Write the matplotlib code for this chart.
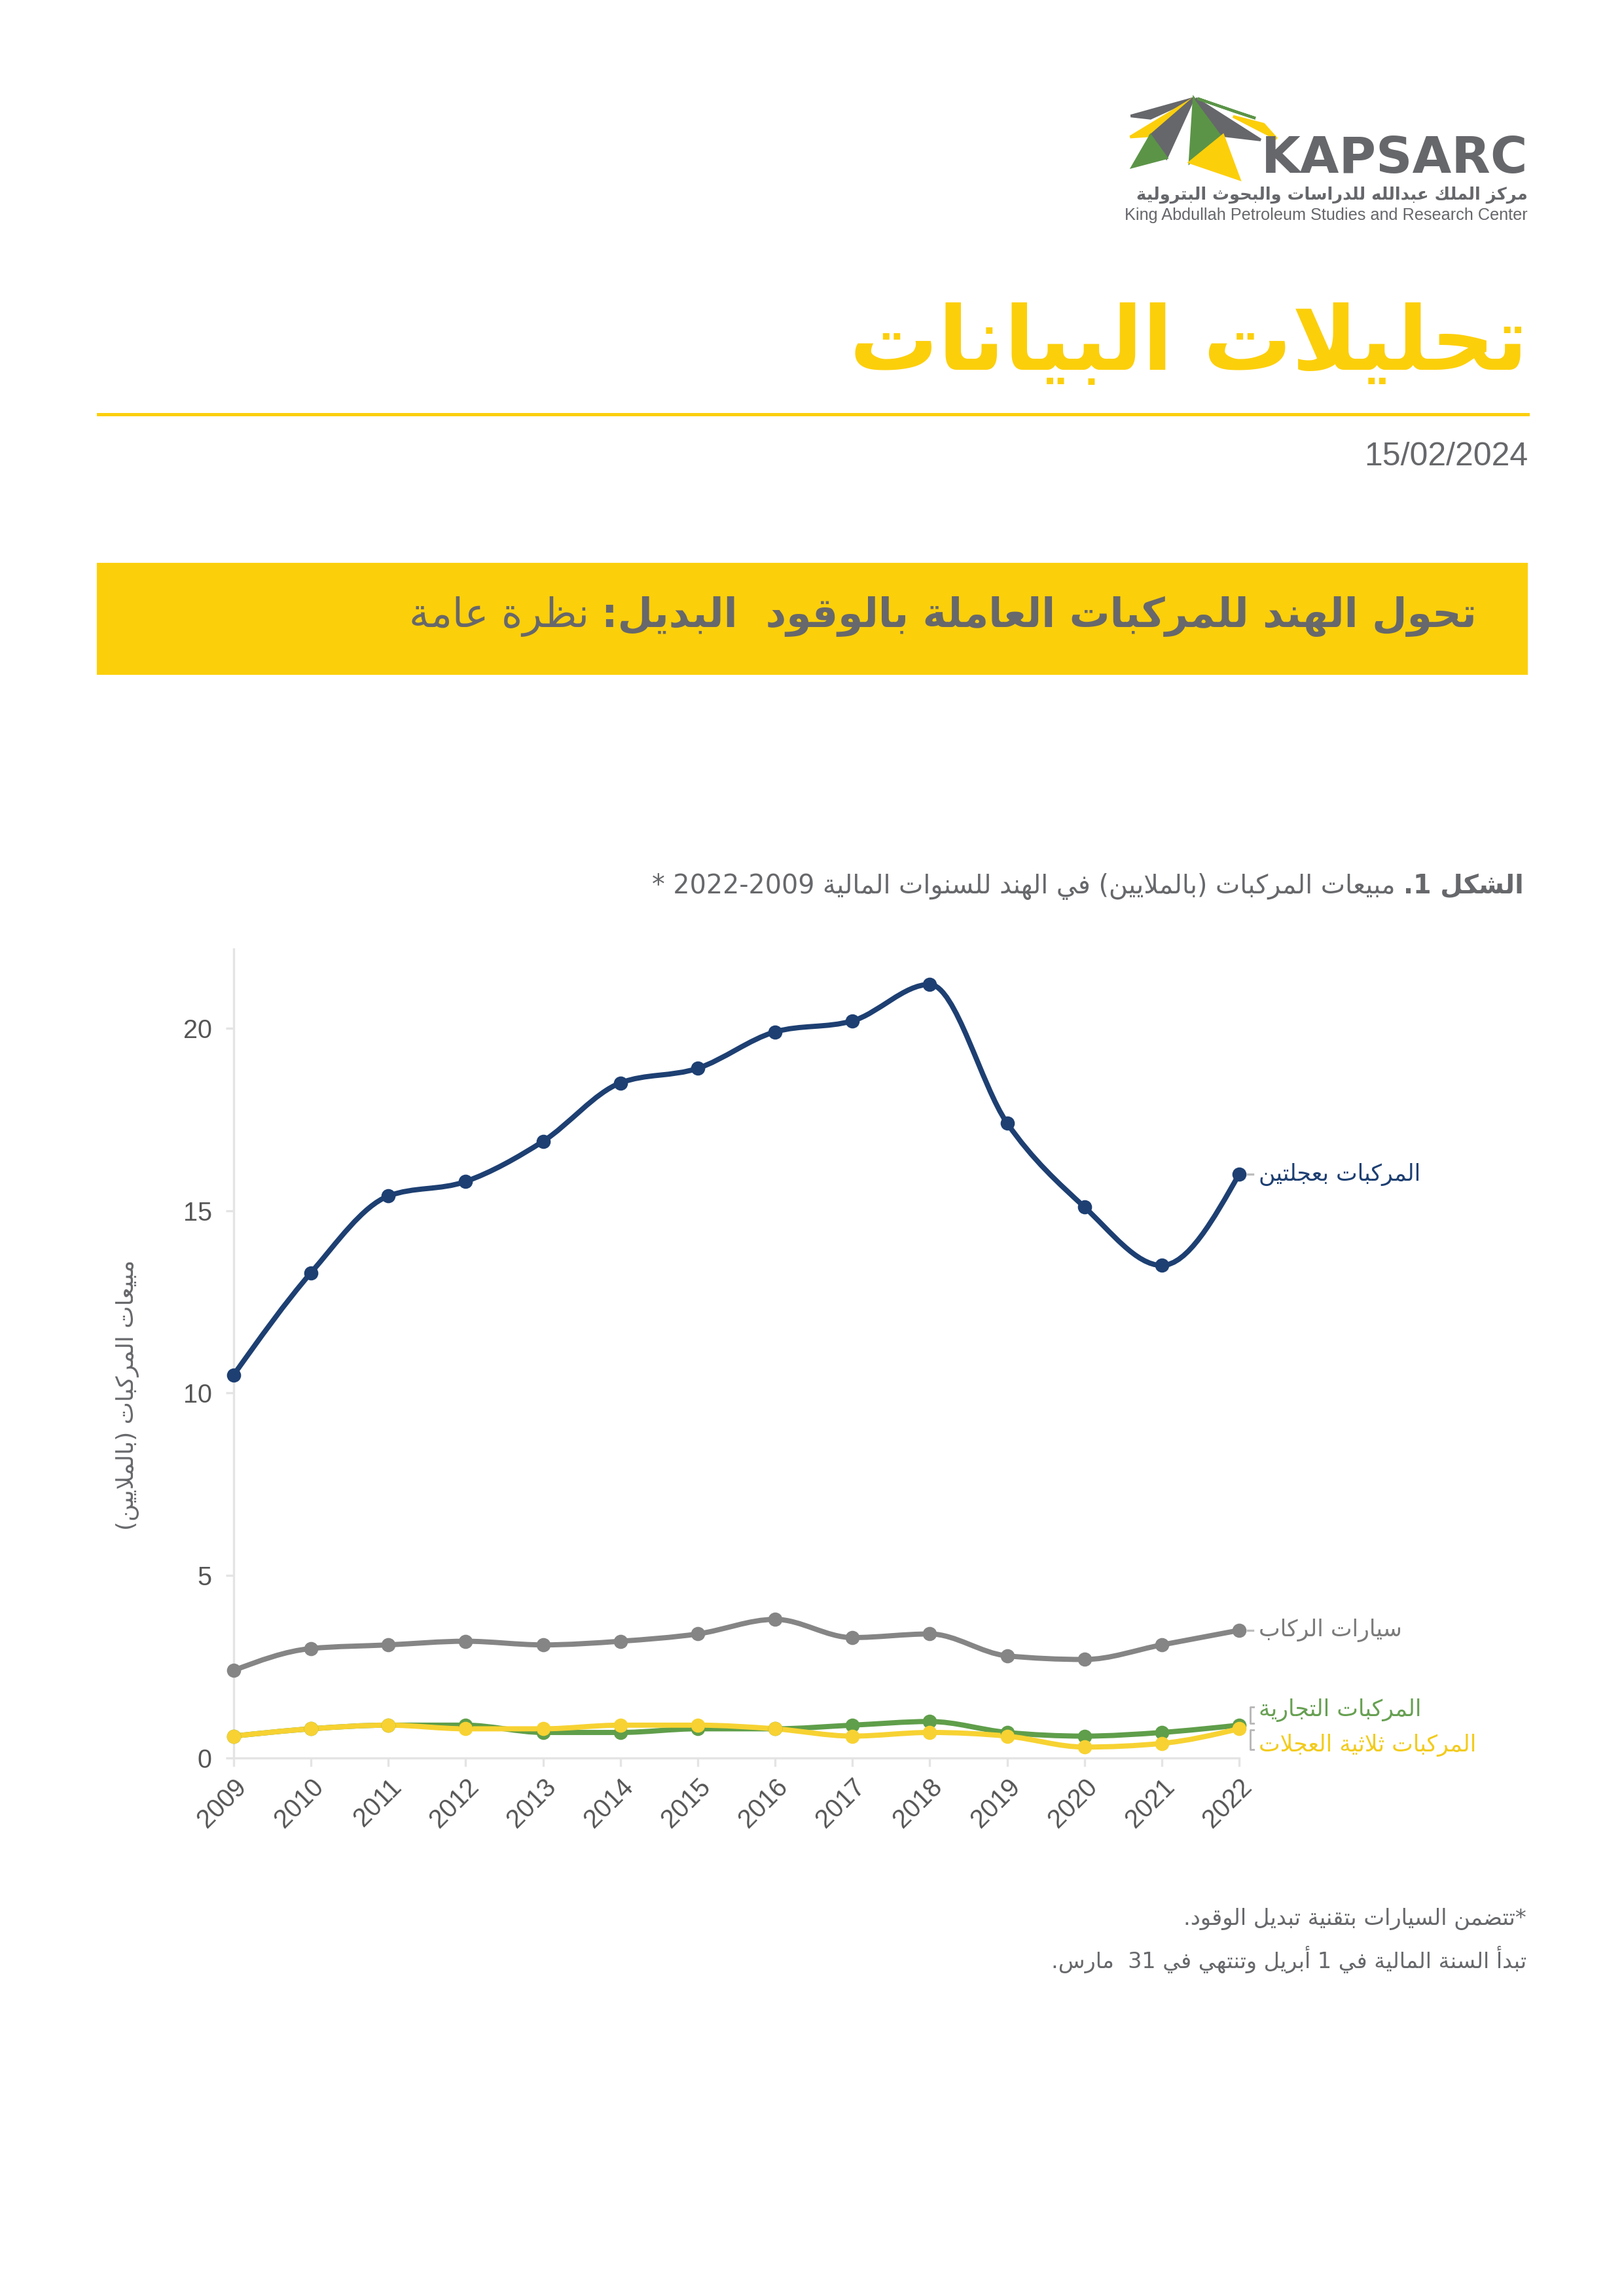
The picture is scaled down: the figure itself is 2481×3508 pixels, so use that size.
import re
import numpy as np
import matplotlib
matplotlib.use('Agg')
import matplotlib.pyplot as plt
from matplotlib.path import Path
from matplotlib.patches import PathPatch, Polygon, Rectangle
from matplotlib.lines import Line2D

plt.rcParams['font.family'] = ['Liberation Sans', 'DejaVu Sans']

# ---- data (vehicle sales in India, millions, fiscal years) ----
years = [2009, 2010, 2011, 2012, 2013, 2014, 2015, 2016, 2017, 2018, 2019, 2020, 2021, 2022]
two_wheelers = [10.5, 13.3, 15.4, 15.8, 16.9, 18.5, 18.9, 19.9, 20.2, 21.2, 17.4, 15.1, 13.5, 16.0]
passenger_cars = [2.4, 3.0, 3.1, 3.2, 3.1, 3.2, 3.4, 3.8, 3.3, 3.4, 2.8, 2.7, 3.1, 3.5]
commercial = [0.6, 0.8, 0.9, 0.9, 0.7, 0.7, 0.8, 0.8, 0.9, 1.0, 0.7, 0.6, 0.7, 0.9]
three_wheelers = [0.6, 0.8, 0.9, 0.8, 0.8, 0.9, 0.9, 0.8, 0.6, 0.7, 0.6, 0.3, 0.4, 0.8]
series_names = ['المركبات بعجلتين', 'سيارات الركاب', 'المركبات التجارية', 'المركبات ثلاثية العجلات']
y_ticks = [0, 5, 10, 15, 20]

NAVY = '#1d3f72'
GREY_LINE = '#858585'
GREEN = '#5f9e4a'
YELLOW = '#f7d232'
BRAND_YELLOW = '#fccf0b'
TEXT_GREY = '#67686b'

W, H = 2481, 3508


# ---- simple Arabic shaping + visual reordering (matplotlib 3.10 has no shaping) ----
_AR = {'ء': (0xFE80, 1), 'آ': (0xFE81, 2), 'أ': (0xFE83, 2), 'ؤ': (0xFE85, 2), 'إ': (0xFE87, 2),
       'ئ': (0xFE89, 4), 'ا': (0xFE8D, 2), 'ب': (0xFE8F, 4), 'ة': (0xFE93, 2), 'ت': (0xFE95, 4),
       'ث': (0xFE99, 4), 'ج': (0xFE9D, 4), 'ح': (0xFEA1, 4), 'خ': (0xFEA5, 4), 'د': (0xFEA9, 2),
       'ذ': (0xFEAB, 2), 'ر': (0xFEAD, 2), 'ز': (0xFEAF, 2), 'س': (0xFEB1, 4), 'ش': (0xFEB5, 4),
       'ص': (0xFEB9, 4), 'ض': (0xFEBD, 4), 'ط': (0xFEC1, 4), 'ظ': (0xFEC5, 4), 'ع': (0xFEC9, 4),
       'غ': (0xFECD, 4), 'ف': (0xFED1, 4), 'ق': (0xFED5, 4), 'ك': (0xFED9, 4), 'ل': (0xFEDD, 4),
       'م': (0xFEE1, 4), 'ن': (0xFEE5, 4), 'ه': (0xFEE9, 4), 'و': (0xFEED, 2), 'ى': (0xFEEF, 2),
       'ي': (0xFEF1, 4)}
_LAMALEF = {'آ': 0xFEF5, 'أ': 0xFEF7, 'إ': 0xFEF9, 'ا': 0xFEFB}
_MIRROR = str.maketrans('()', ')(')


def _shape(s):
    out = []
    i, n = 0, len(s)
    while i < n:
        c = s[i]
        if c not in _AR:
            out.append(c)
            i += 1
            continue
        prev = s[i - 1] if i > 0 else ''
        link_prev = prev in _AR and _AR[prev][1] == 4
        if c == 'ل' and i + 1 < n and s[i + 1] in _LAMALEF:
            out.append(chr(_LAMALEF[s[i + 1]] + (1 if link_prev else 0)))
            i += 2
            continue
        base, k = _AR[c]
        nxt = s[i + 1] if i + 1 < n else ''
        link_next = k == 4 and nxt in _AR and _AR[nxt][1] > 1
        if k == 1:
            form = 0
        elif link_prev and link_next:
            form = 3
        elif link_prev:
            form = 1
        elif link_next:
            form = 2
        else:
            form = 0
        out.append(chr(base + form))
        i += 1
    return ''.join(out)


def ar(s):
    runs = re.findall(r'[0-9]+|[^0-9]+', _shape(s))
    return ''.join(r if r[0].isdigit() else r[::-1].translate(_MIRROR) for r in reversed(runs))


def fx(x):
    return x / W


def fy(y):
    return 1 - y / H


fig = plt.figure(figsize=(W / 300, H / 300), dpi=300)
renderer = fig.canvas.get_renderer()


def rtl_line(x_right, y, parts, size, color):
    """draw text segments right to left, each (text, weight)"""
    x = fx(x_right)
    for txt, weight in parts:
        t = fig.text(x, fy(y), ar(txt), ha='right', va='center', fontsize=size,
                     fontweight=weight, color=color, family=['DejaVu Sans'])
        bb = t.get_window_extent(renderer=renderer)
        x = bb.x0 / W


# ---- logo ----
def logo_pt(zx, zy):
    return (fx(1700 + zx * 0.443), fy(130 + zy * 0.342))


logo_shapes = [
    ([(62, 138), (278, 60), (130, 148)], '#66676b'),
    ([(60, 232), (276, 62), (130, 226)], BRAND_YELLOW),
    ([(130, 226), (278, 60), (185, 325)], '#66676b'),
    ([(130, 226), (185, 325), (68, 365)], '#5b9447'),
    ([(280, 60), (380, 225), (266, 345)], '#5b9447'),
    ([(286, 60), (510, 245), (380, 225)], '#66676b'),
    ([(292, 60), (492, 148), (420, 118)], '#5b9447'),
    ([(415, 140), (520, 175), (565, 240)], BRAND_YELLOW),
    ([(266, 345), (380, 225), (436, 420)], BRAND_YELLOW),
]
for pts, col in logo_shapes:
    fig.patches.append(Polygon([logo_pt(*p) for p in pts], closed=True, color=col,
                               transform=fig.transFigure, figure=fig))
fig.text(fx(2334), fy(243), 'KAPSARC', ha='right', va='center', fontsize=18.5,
         fontweight='bold', color='#66676b', family=['DejaVu Sans'])
fig.text(fx(2334), fy(298), ar('مركز الملك عبدالله للدراسات والبحوث البترولية'), ha='right',
         va='center', fontsize=6.2, fontweight='bold', color='#66676b', family=['DejaVu Sans'])
fig.text(fx(2334), fy(329), 'King Abdullah Petroleum Studies and Research Center', ha='right',
         va='center', fontsize=6.05, color='#66676b')

# ---- header ----
rtl_line(2334, 528, [('تحليلات البيانات', 'bold')], 32.3, BRAND_YELLOW)
fig.add_artist(Line2D([fx(150), fx(2334)], [fy(633), fy(633)], color=BRAND_YELLOW, lw=1.2))
fig.text(fx(2334), fy(698), '15/02/2024', ha='right', va='center', fontsize=12, color=TEXT_GREY)

fig.patches.append(Rectangle((fx(150), fy(1029)), fx(2332) - fx(150), fy(862) - fy(1029),
                             color=BRAND_YELLOW, transform=fig.transFigure, figure=fig))
rtl_line(2256, 942, [('تحول الهند للمركبات العاملة بالوقود  البديل:', 'bold'),
                     (' نظرة عامة', 'normal')], 14.8, TEXT_GREY)

rtl_line(2328, 1354, [('الشكل 1.', 'bold'),
                      (' مبيعات المركبات (بالملايين) في الهند للسنوات المالية 2009-2022 *', 'normal')],
         9.5, TEXT_GREY)

# ---- chart ----
ax = fig.add_axes([fx(357), fy(2686), fx(1893) - fx(357), fy(1450) - fy(2686)])


def monotone_path(xs, ys):
    xs = np.asarray(xs, float)
    ys = np.asarray(ys, float)
    n = len(xs)
    h = np.diff(xs)
    s = np.diff(ys) / h
    t = np.zeros(n)
    for i in range(1, n - 1):
        p = (s[i - 1] * h[i] + s[i] * h[i - 1]) / (h[i - 1] + h[i])
        t[i] = (np.sign(s[i - 1]) + np.sign(s[i])) * min(abs(s[i - 1]), abs(s[i]), 0.5 * abs(p))
    t[0] = (3 * s[0] - t[1]) / 2
    t[-1] = (3 * s[-1] - t[-2]) / 2
    verts = [(xs[0], ys[0])]
    codes = [Path.MOVETO]
    for i in range(n - 1):
        d = h[i] / 3
        verts += [(xs[i] + d, ys[i] + d * t[i]), (xs[i + 1] - d, ys[i + 1] - d * t[i + 1]),
                  (xs[i + 1], ys[i + 1])]
        codes += [Path.CURVE4] * 3
    return Path(verts, codes)


all_series = [two_wheelers, passenger_cars, commercial, three_wheelers]
colors = [NAVY, GREY_LINE, GREEN, YELLOW]
for vals, col in zip(all_series, colors):
    ax.add_patch(PathPatch(monotone_path(years, vals), fill=False, edgecolor=col, lw=1.9,
                           capstyle='round', joinstyle='round', clip_on=False))
    ax.plot(years, vals, 'o', color=col, ms=4.2, clip_on=False, zorder=3)

ax.set_xlim(years[0], years[-1])
ax.set_ylim(0, 22.17)
ax.set_yticks(y_ticks)
ax.set_xticks(years)
ax.set_xticklabels([str(y) for y in years], rotation=45, ha='right', va='top',
                   rotation_mode='anchor')
for sp in ['top', 'right']:
    ax.spines[sp].set_visible(False)
for sp in ['left', 'bottom']:
    ax.spines[sp].set_color('#e4e4e4')
    ax.spines[sp].set_linewidth(0.8)
ax.tick_params(axis='both', colors='#e4e4e4', labelcolor='#555555', labelsize=9.5,
               length=3, width=0.8)
ax.tick_params(axis='y', pad=5)
ax.tick_params(axis='x', pad=3)

fig.text(fx(195), fy(2131), ar('مبيعات المركبات (بالملايين)'), rotation=90, ha='center',
         va='center', fontsize=8.7, color=TEXT_GREY, family=['DejaVu Sans'])

# right-hand series labels
label_colors = [NAVY, '#7b7b7b', '#67a052', '#f3cb1c']
label_offsets = [0, 0, 23, -25]   # pixels, + is up
for vals, name, col, off in zip(all_series, series_names, label_colors, label_offsets):
    px_x, px_y = ax.transData.transform((years[-1], vals[-1]))
    ly = px_y + off
    fig.text((px_x + 30) / W, ly / H, ar(name), ha='left', va='center', fontsize=8.3,
             color=col, family=['DejaVu Sans'])
    if off == 0:
        fig.add_artist(Line2D([(px_x + 13) / W, (px_x + 21) / W], [ly / H, ly / H],
                              color='#bdbdbd', lw=0.8))
    else:
        if off > 0:
            y0, y1 = px_y + 3, px_y + 28
        else:
            y0, y1 = px_y - 32, px_y - 2
        xb = px_x + 17
        fig.add_artist(Line2D([(xb + 5) / W, xb / W, xb / W, (xb + 5) / W],
                              [y1 / H, y1 / H, y0 / H, y0 / H], color='#b8b8b8', lw=0.7))

# ---- footnotes ----
rtl_line(2332, 2932, [('*تتضمن السيارات بتقنية تبديل الوقود.', 'normal')], 8.1, TEXT_GREY)
rtl_line(2332, 2994, [('تبدأ السنة المالية في 1 أبريل وتنتهي في 31  مارس.', 'normal')], 8.0, TEXT_GREY)

fig.savefig('out.png', dpi=300)
